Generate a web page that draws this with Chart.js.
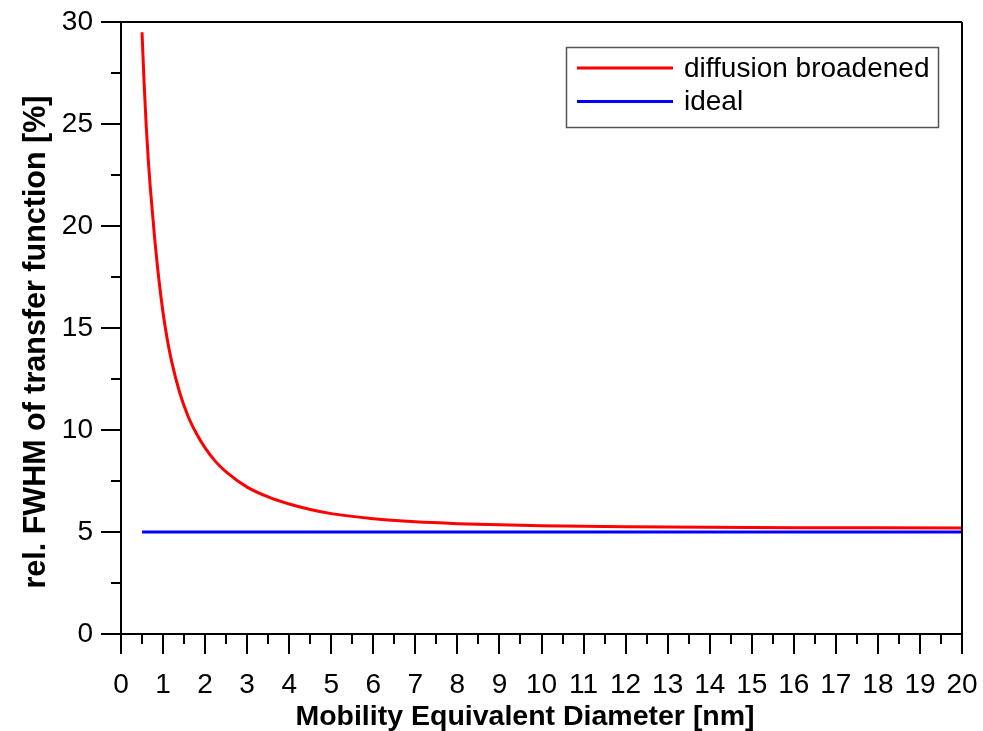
<!DOCTYPE html>
<html>
<head>
<meta charset="utf-8">
<title>FWHM vs mobility diameter</title>
<script src="https://cdn.jsdelivr.net/npm/chart.js@4.4.1/dist/chart.umd.min.js"></script>
<style>
  html, body { margin: 0; padding: 0; background: #fff; }
  canvas { display: block; }
</style>
</head>
<body>
<canvas id="fwhmChart" width="983" height="731"></canvas>
<script>
// Data
const diameters = [0.5, 0.55, 0.6, 0.65, 0.7, 0.8, 0.9, 1.0, 1.1, 1.2, 1.4, 1.6, 1.8, 2.0, 2.25, 2.5, 3.0, 3.5, 4.0, 4.5, 5, 6, 7, 8, 9, 10, 12, 14, 16, 18, 20];
const fwhmDiffusion = [29.5, 27.0, 24.9, 23.2, 21.8, 19.4, 17.4, 15.75, 14.45, 13.4, 11.8, 10.65, 9.8, 9.12, 8.45, 7.95, 7.2, 6.72, 6.37, 6.1, 5.9, 5.65, 5.5, 5.41, 5.35, 5.31, 5.26, 5.23, 5.21, 5.205, 5.2];
const idealDiameters = [0.5, 20];
const fwhmIdeal = [5, 5];

const seriesLabels = ['diffusion broadened', 'ideal'];
const xTitle = 'Mobility Equivalent Diameter [nm]';
const yTitle = 'rel. FWHM of transfer function [%]';

const FONT = '"Liberation Sans", Arial, Helvetica, sans-serif';

function toPoints(xs, ys) {
    return xs.map((x, i) => ({ x: x, y: ys[i] }));
}

// minor ticks, top/right frame
const framePlugin = {
    id: 'frame',
    afterDraw(chart) {
        const ctx = chart.ctx;
        const area = chart.chartArea;
        const xs = chart.scales.x;
        const ys = chart.scales.y;
        ctx.save();
        ctx.strokeStyle = '#000';
        ctx.lineWidth = 2;
        ctx.beginPath();
        ctx.moveTo(area.left, area.top);
        ctx.lineTo(area.right, area.top);
        ctx.moveTo(area.right, area.top);
        ctx.lineTo(area.right, area.bottom);
        for (let v = 0.5; v < xs.max; v += 1) {
            const px = Math.round(xs.getPixelForValue(v));
            ctx.moveTo(px, area.bottom);
            ctx.lineTo(px, area.bottom + 10);
        }
        for (let v = 2.5; v < ys.max; v += 5) {
            const py = Math.round(ys.getPixelForValue(v));
            ctx.moveTo(area.left, py);
            ctx.lineTo(area.left - 10, py);
        }
        ctx.stroke();
        ctx.restore();
    }
};

// axis titles
const titlesPlugin = {
    id: 'axisTitles',
    afterDraw(chart) {
        const ctx = chart.ctx;
        ctx.save();
        ctx.fillStyle = '#000';
        ctx.textAlign = 'center';
        ctx.textBaseline = 'middle';
        ctx.font = 'bold 28.5px ' + FONT;
        ctx.fillText(xTitle, 525, 717);
        ctx.translate(37, 342);
        ctx.rotate(-Math.PI / 2);
        ctx.font = 'bold 30.5px ' + FONT;
        ctx.fillText(yTitle, 0, 0);
        ctx.restore();
    }
};

// boxed legend inside the plot area
const boxLegendPlugin = {
    id: 'boxLegend',
    afterDraw(chart) {
        const ctx = chart.ctx;
        const box = { left: 566, top: 47, width: 372, height: 80 };
        ctx.save();
        ctx.fillStyle = '#fff';
        ctx.fillRect(box.left, box.top, box.width, box.height);
        ctx.strokeStyle = '#555';
        ctx.lineWidth = 1.5;
        ctx.strokeRect(box.left + 0.5, box.top + 0.5, box.width, box.height);
        ctx.font = '28px ' + FONT;
        ctx.textBaseline = 'middle';
        ctx.fillStyle = '#000';
        chart.data.datasets.forEach((ds, i) => {
            const y = box.top + 21 + i * 33.5;
            ctx.strokeStyle = ds.borderColor;
            ctx.lineWidth = ds.borderWidth;
            ctx.beginPath();
            ctx.moveTo(box.left + 11, y);
            ctx.lineTo(box.left + 107, y);
            ctx.stroke();
            ctx.fillText(ds.label, box.left + 118, y + 1);
        });
        ctx.restore();
    }
};

new Chart(document.getElementById('fwhmChart'), {
    type: 'line',
    data: {
        datasets: [
            {
                label: seriesLabels[0],
                data: toPoints(diameters, fwhmDiffusion),
                borderColor: '#ff0000',
                borderWidth: 3,
                pointRadius: 0,
                cubicInterpolationMode: 'monotone',
                fill: false
            },
            {
                label: seriesLabels[1],
                data: toPoints(idealDiameters, fwhmIdeal),
                borderColor: '#0000ff',
                borderWidth: 3,
                pointRadius: 0,
                fill: false
            }
        ]
    },
    options: {
        responsive: false,
        devicePixelRatio: 1,
        animation: false,
        layout: { padding: { top: 22, right: 21, left: 0, bottom: 0 } },
        plugins: {
            legend: { display: false },
            tooltip: { enabled: false }
        },
        scales: {
            x: {
                type: 'linear',
                min: 0,
                max: 20,
                afterFit(scale) {
                    scale.height = 97;
                    scale.paddingLeft = 0;
                    scale.paddingRight = 0;
                },
                border: { display: true, color: '#000', width: 2 },
                grid: { drawOnChartArea: false, drawTicks: true, tickLength: 20, color: '#000', lineWidth: 2 },
                ticks: {
                    stepSize: 1,
                    autoSkip: false,
                    maxRotation: 0,
                    padding: 14,
                    color: '#000',
                    font: { family: FONT, size: 28 }
                }
            },
            y: {
                min: 0,
                max: 30,
                afterFit(scale) {
                    scale.width = 121;
                    scale.paddingTop = 0;
                    scale.paddingBottom = 0;
                },
                border: { display: true, color: '#000', width: 2 },
                grid: { drawOnChartArea: false, drawTicks: true, tickLength: 20, color: '#000', lineWidth: 2 },
                ticks: {
                    stepSize: 5,
                    padding: 8,
                    color: '#000',
                    font: { family: FONT, size: 28 }
                }
            }
        }
    },
    plugins: [framePlugin, titlesPlugin, boxLegendPlugin]
});
</script>
</body>
</html>
